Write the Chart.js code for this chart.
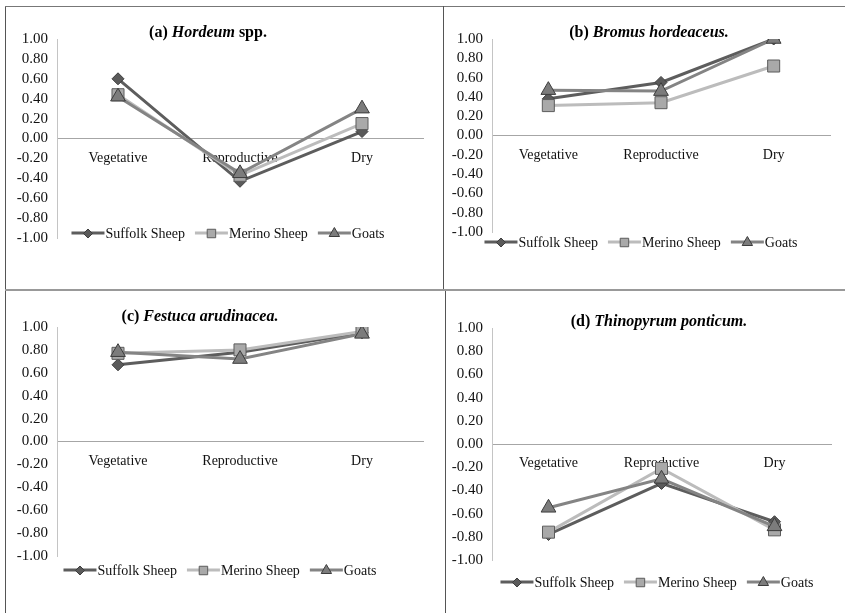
<!DOCTYPE html>
<html>
<head>
<meta charset="utf-8">
<script src="https://cdn.jsdelivr.net/npm/chart.js@4.4.0/dist/chart.umd.min.js"></script>
<style>
  body { margin: 0; background: #fff; }
  #wrap { position: relative; width: 845px; height: 613px; overflow: hidden; background: #fff; }
  canvas { position: absolute; }
  .rule { position: absolute; background: #555; }
</style>
</head>
<body>
<div id="wrap">
  <canvas id="chartA"></canvas>
  <canvas id="chartB"></canvas>
  <canvas id="chartC"></canvas>
  <canvas id="chartD"></canvas>
  <div class="rule" style="left:5px;top:6px;width:1px;height:607px"></div>
  <div class="rule" style="left:5px;top:6px;width:840px;height:1px;background:#777"></div>
  <div class="rule" style="left:443px;top:6px;width:1px;height:284px"></div>
  <div class="rule" style="left:445px;top:290px;width:1px;height:323px"></div>
  <div class="rule" style="left:5px;top:289px;width:840px;height:2px;background:#999"></div>
</div>
<script>
// categories and series
const stages = ['Vegetative', 'Reproductive', 'Dry'];
const animals = ['Suffolk Sheep', 'Merino Sheep', 'Goats'];

// (a) Hordeum spp.
const hordeumSuffolk = [0.60, -0.43, 0.07];
const hordeumMerino = [0.44, -0.37, 0.15];
const hordeumGoats = [0.42, -0.35, 0.30];

// (b) Bromus hordeaceus
const bromusSuffolk = [0.38, 0.55, 1.00];
const bromusMerino = [0.31, 0.34, 0.72];
const bromusGoats = [0.47, 0.46, 1.00];

// (c) Festuca arudinacea
const festucaSuffolk = [0.67, 0.78, 0.95];
const festucaMerino = [0.77, 0.80, 0.96];
const festucaGoats = [0.78, 0.72, 0.94];

// (d) Thinopyrum ponticum
const thinoSuffolk = [-0.78, -0.34, -0.67];
const thinoMerino = [-0.76, -0.21, -0.74];
const thinoGoats = [-0.55, -0.30, -0.71];

// series look (Excel greys)
const lineColors = ['#5d5d5d', '#bcbcbc', '#848484'];
const markerFill = ['#5a5a5a', '#a9a9a9', '#7c7c7c'];
const markerEdge = ['#3c3c3c', '#5c5c5c', '#3c3c3c'];
const markerShape = ['rectRot', 'rect', 'triangle'];
const markerSize = [6, 8.5, 8.5];

const serif = '"Liberation Serif", "Times New Roman", serif';

function drawMarker(ctx, shape, x, y, r) {
  ctx.beginPath();
  if (shape === 'rectRot') {
    ctx.moveTo(x - r, y); ctx.lineTo(x, y - r); ctx.lineTo(x + r, y); ctx.lineTo(x, y + r);
  } else if (shape === 'rect') {
    const s = r * Math.SQRT1_2;
    ctx.rect(x - s, y - s, 2 * s, 2 * s);
  } else {
    ctx.moveTo(x, y - r);
    ctx.lineTo(x + r * Math.sin(2 * Math.PI / 3), y - r * Math.cos(2 * Math.PI / 3));
    ctx.lineTo(x + r * Math.sin(4 * Math.PI / 3), y - r * Math.cos(4 * Math.PI / 3));
  }
  ctx.closePath();
  ctx.fill();
  ctx.stroke();
}

// title with an italic species name
const mixedTitle = {
  id: 'mixedTitle',
  afterDraw(chart, args, opts) {
    const ctx = chart.ctx;
    const parts = opts.parts;
    ctx.save();
    ctx.fillStyle = '#000';
    ctx.textBaseline = 'middle';
    ctx.textAlign = 'left';
    const fonts = parts.map(p => (p.italic ? 'italic ' : '') + 'bold 16px ' + serif);
    const widths = parts.map((p, i) => { ctx.font = fonts[i]; return ctx.measureText(p.text).width; });
    let x = opts.x - widths.reduce((s, w) => s + w, 0) / 2;
    parts.forEach((p, i) => {
      ctx.font = fonts[i];
      ctx.fillText(p.text, x, opts.y);
      x += widths[i];
    });
    ctx.restore();
  }
};

// Excel style legend: short line with the marker on it
const lineLegend = {
  id: 'lineLegend',
  afterDraw(chart, args, opts) {
    const ctx = chart.ctx;
    const sets = chart.data.datasets;
    ctx.save();
    ctx.font = '14px ' + serif;
    ctx.textBaseline = 'middle';
    ctx.textAlign = 'left';
    const lineLen = 33, gap = 10;
    const widths = sets.map(ds => lineLen + 1 + ctx.measureText(ds.label).width);
    let x = opts.x - (widths.reduce((s, w) => s + w, 0) + gap * (sets.length - 1)) / 2;
    const y = opts.y;
    sets.forEach((ds, i) => {
      ctx.strokeStyle = ds.borderColor;
      ctx.lineWidth = 3;
      ctx.beginPath();
      ctx.moveTo(x, y);
      ctx.lineTo(x + lineLen, y);
      ctx.stroke();
      ctx.fillStyle = ds.pointBackgroundColor;
      ctx.strokeStyle = ds.pointBorderColor;
      ctx.lineWidth = 1;
      drawMarker(ctx, ds.pointStyle, x + lineLen / 2, y + 0.5, ds.pointStyle === 'rectRot' ? 4.5 : 6);
      ctx.fillStyle = '#111';
      ctx.fillText(ds.label, x + lineLen + 1, y + 1);
      x += widths[i] + gap;
    });
    ctx.restore();
  }
};

function makeSet(i, values) {
  return {
    label: animals[i],
    data: values,
    borderColor: lineColors[i],
    borderWidth: 3,
    pointStyle: markerShape[i],
    pointRadius: markerSize[i],
    pointHoverRadius: markerSize[i],
    pointBackgroundColor: markerFill[i],
    pointBorderColor: markerEdge[i],
    pointBorderWidth: 1,
    order: 2 - i,
    tension: 0
  };
}

function makeChart(id, box, plot, title, legend, series) {
  const el = document.getElementById(id);
  el.style.left = box.left + 'px';
  el.style.top = box.top + 'px';
  el.width = box.width;
  el.height = box.height;
  return new Chart(el, {
    type: 'line',
    data: {
      labels: stages,
      datasets: series.map((v, i) => makeSet(i, v))
    },
    options: {
      responsive: false,
      animation: false,
      devicePixelRatio: 1,
      layout: {
        padding: {
          left: 0,
          top: plot.top - box.top,
          right: box.left + box.width - plot.right,
          bottom: box.top + box.height - plot.bottom
        }
      },
      scales: {
        x: {
          position: { y: 0 },
          offset: true,
          grid: { display: false, drawTicks: false },
          border: { display: true, color: '#a6a6a6', width: 1 },
          ticks: { padding: 11, color: '#111', font: { family: serif, size: 14 } }
        },
        y: {
          min: -1,
          max: 1,
          afterFit(scale) { scale.width = plot.left - box.left; },
          grid: { display: false, drawTicks: false },
          border: { display: true, color: '#c4c4c4', width: 1 },
          ticks: {
            stepSize: 0.2,
            autoSkip: false,
            padding: 9,
            color: '#111',
            font: { family: serif, size: 15 },
            callback: v => v.toFixed(2)
          }
        }
      },
      plugins: {
        legend: { display: false },
        tooltip: { enabled: false },
        mixedTitle: { parts: title.parts, x: title.x - box.left, y: title.y - box.top },
        lineLegend: { x: legend.x - box.left, y: legend.y - box.top }
      }
    },
    plugins: [mixedTitle, lineLegend]
  });
}

makeChart('chartA',
  { left: 6, top: 7, width: 437, height: 282 },
  { left: 57, right: 423, top: 39, bottom: 238 },
  { x: 208, y: 33, parts: [{ text: '(a) ' }, { text: 'Hordeum', italic: true }, { text: ' spp.' }] },
  { x: 228, y: 233 },
  [hordeumSuffolk, hordeumMerino, hordeumGoats]);

makeChart('chartB',
  { left: 444, top: 7, width: 401, height: 282 },
  { left: 492, right: 830, top: 39, bottom: 232 },
  { x: 649, y: 33, parts: [{ text: '(b) ' }, { text: 'Bromus hordeaceus.', italic: true }] },
  { x: 641, y: 242 },
  [bromusSuffolk, bromusMerino, bromusGoats]);

makeChart('chartC',
  { left: 6, top: 291, width: 439, height: 322 },
  { left: 57, right: 423, top: 327, bottom: 556 },
  { x: 200, y: 317, parts: [{ text: '(c) ' }, { text: 'Festuca arudinacea.', italic: true }] },
  { x: 220, y: 570 },
  [festucaSuffolk, festucaMerino, festucaGoats]);

makeChart('chartD',
  { left: 446, top: 291, width: 399, height: 322 },
  { left: 492, right: 831, top: 328, bottom: 560 },
  { x: 659, y: 322, parts: [{ text: '(d) ' }, { text: 'Thinopyrum ponticum.', italic: true }] },
  { x: 657, y: 582 },
  [thinoSuffolk, thinoMerino, thinoGoats]);
</script>
</body>
</html>
